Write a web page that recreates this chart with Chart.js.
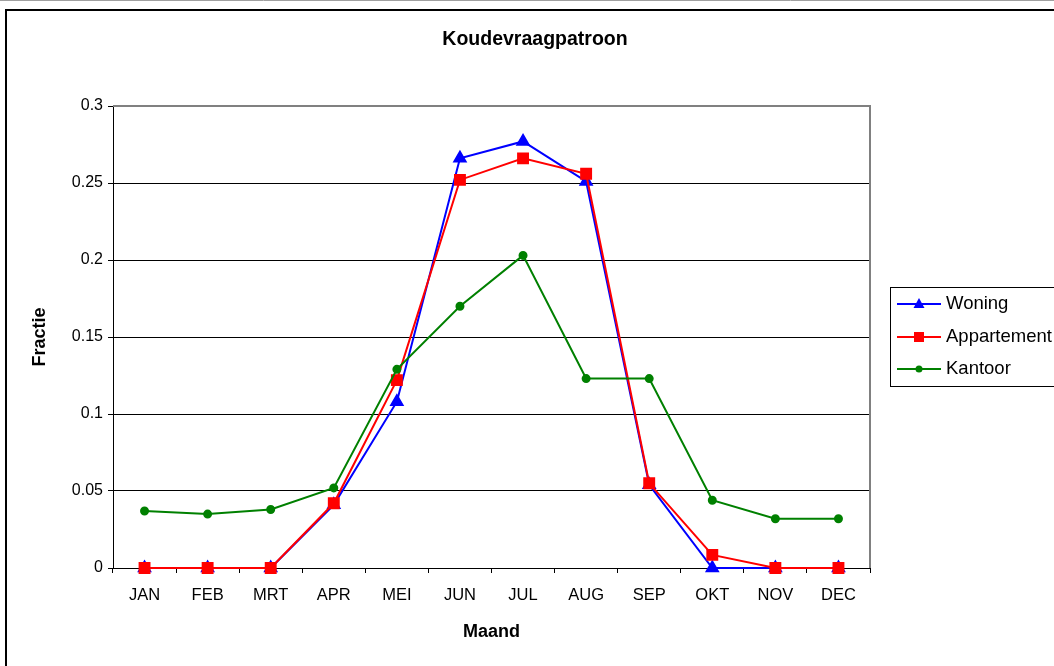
<!DOCTYPE html>
<html>
<head>
<meta charset="utf-8">
<script src="https://cdn.jsdelivr.net/npm/chart.js@4/dist/chart.umd.min.js"></script>
<style>
  html, body { margin: 0; padding: 0; background: #fff; }
  canvas { display: block; }
</style>
</head>
<body>
<canvas id="c" width="1054" height="666"></canvas>
<script>
const months = ['JAN','FEB','MRT','APR','MEI','JUN','JUL','AUG','SEP','OKT','NOV','DEC'];
const woning = [0, 0, 0, 0.041, 0.108, 0.266, 0.277, 0.251, 0.054, 0, 0, 0];
const appartement = [0, 0, 0, 0.042, 0.122, 0.252, 0.266, 0.256, 0.055, 0.0085, 0, 0];
const kantoor = [0.037, 0.035, 0.038, 0.052, 0.129, 0.170, 0.203, 0.123, 0.123, 0.044, 0.032, 0.032];
const yTickLabels = ['0', '0.05', '0.1', '0.15', '0.2', '0.25', '0.3'];
const seriesNames = ['Woning', 'Appartement', 'Kantoor'];
const chartTitle = 'Koudevraagpatroon';

const FONT = '"Liberation Sans", Arial, sans-serif';

const decor = {
  id: 'decor',
  beforeDraw(chart) {
    const ctx = chart.ctx;
    ctx.save();
    ctx.fillStyle = '#fff';
    ctx.fillRect(0, 0, chart.width, chart.height);
    ctx.strokeStyle = '#a0a0a0';
    ctx.lineWidth = 1;
    ctx.beginPath(); ctx.moveTo(0, 0.5); ctx.lineTo(chart.width, 0.5); ctx.stroke();
    ctx.strokeStyle = '#000';
    ctx.lineWidth = 2;
    ctx.strokeRect(6, 10, 1200, 800);
    ctx.restore();
  },
  beforeDatasetsDraw(chart) {
    const ctx = chart.ctx;
    const a = chart.chartArea;
    ctx.save();
    ctx.strokeStyle = '#808080';
    ctx.lineWidth = 2;
    ctx.beginPath();
    ctx.moveTo(a.left, a.top);
    ctx.lineTo(a.right, a.top);
    ctx.lineTo(a.right, a.bottom);
    ctx.stroke();
    ctx.restore();
  },
  afterDraw(chart) {
    const ctx = chart.ctx;
    ctx.save();
    // title
    ctx.fillStyle = '#000';
    ctx.font = 'bold 19.5px ' + FONT;
    ctx.textAlign = 'center';
    ctx.textBaseline = 'middle';
    ctx.fillText(chartTitle, 535, 40);
    // legend
    ctx.strokeStyle = '#000';
    ctx.lineWidth = 1;
    ctx.strokeRect(890.5, 287.5, 300, 99);
    const rows = [304, 337, 369];
    chart.data.datasets.forEach((ds, i) => {
      const y = rows[i];
      ctx.strokeStyle = ds.borderColor;
      ctx.lineWidth = 2;
      ctx.beginPath(); ctx.moveTo(897, y); ctx.lineTo(941, y); ctx.stroke();
      ctx.fillStyle = ds.backgroundColor;
      const x = 919;
      if (ds.pointStyle === 'triangle') {
        ctx.beginPath();
        ctx.moveTo(x, y - 6); ctx.lineTo(x + 5.5, y + 4); ctx.lineTo(x - 5.5, y + 4); ctx.closePath(); ctx.fill();
      } else if (ds.pointStyle === 'rect') {
        ctx.fillRect(x - 5, y - 5, 10, 10);
      } else {
        ctx.beginPath(); ctx.arc(x, y, 3.5, 0, Math.PI * 2); ctx.fill();
      }
      ctx.fillStyle = '#000';
      ctx.font = '18.5px ' + FONT;
      ctx.textAlign = 'left';
      ctx.textBaseline = 'middle';
      ctx.fillText(ds.label, 946, y);
    });
    ctx.restore();
  }
};

new Chart(document.getElementById('c'), {
  type: 'line',
  data: {
    labels: months,
    datasets: [
      { label: seriesNames[0], data: woning, borderColor: '#0000FF', backgroundColor: '#0000FF',
        pointStyle: 'triangle', pointRadius: 6.5, borderWidth: 2, order: 3 },
      { label: seriesNames[1], data: appartement, borderColor: '#FF0000', backgroundColor: '#FF0000',
        pointStyle: 'rect', pointRadius: 7, borderWidth: 2, order: 2 },
      { label: seriesNames[2], data: kantoor, borderColor: '#008000', backgroundColor: '#008000',
        pointStyle: 'circle', pointRadius: 3.5, borderWidth: 2, order: 1 }
    ]
  },
  options: {
    responsive: false,
    animation: false,
    events: [],
    layout: { padding: { left: 0, top: 106, right: 184, bottom: 0 } },
    elements: { line: { tension: 0 }, point: { borderWidth: 0, hoverRadius: 0 } },
    datasets: { line: { clip: false } },
    plugins: { legend: { display: false }, tooltip: { enabled: false }, title: { display: false } },
    scales: {
      x: {
        offset: true,
        afterFit(s) { s.height = 98; },
        grid: { offset: true, drawOnChartArea: false, tickLength: 5, color: '#000', lineWidth: 1 },
        border: { color: '#000', width: 1 },
        ticks: { color: '#000', font: { family: FONT, size: 16.5 }, padding: 13, maxRotation: 0, autoSkip: false },
        title: { display: true, text: 'Maand', color: '#000', font: { family: FONT, size: 18, weight: 'bold' }, padding: { top: 0, bottom: 23 } }
      },
      y: {
        min: 0, max: 0.3,
        afterFit(s) { s.width = 113; },
        afterBuildTicks(s) { s.ticks = yTickLabels.map(t => ({ value: parseFloat(t) })); },
        grid: { color: '#000', lineWidth: 1, tickLength: 5 },
        border: { color: '#000', width: 1 },
        ticks: { color: '#000', font: { family: FONT, size: 16 }, padding: 5,
          callback: (v, i) => yTickLabels[i] },
        title: { display: true, text: 'Fractie', color: '#000', font: { family: FONT, size: 18, weight: 'bold' }, padding: { top: 29, bottom: 0 } }
      }
    }
  },
  plugins: [decor]
});
</script>
</body>
</html>
